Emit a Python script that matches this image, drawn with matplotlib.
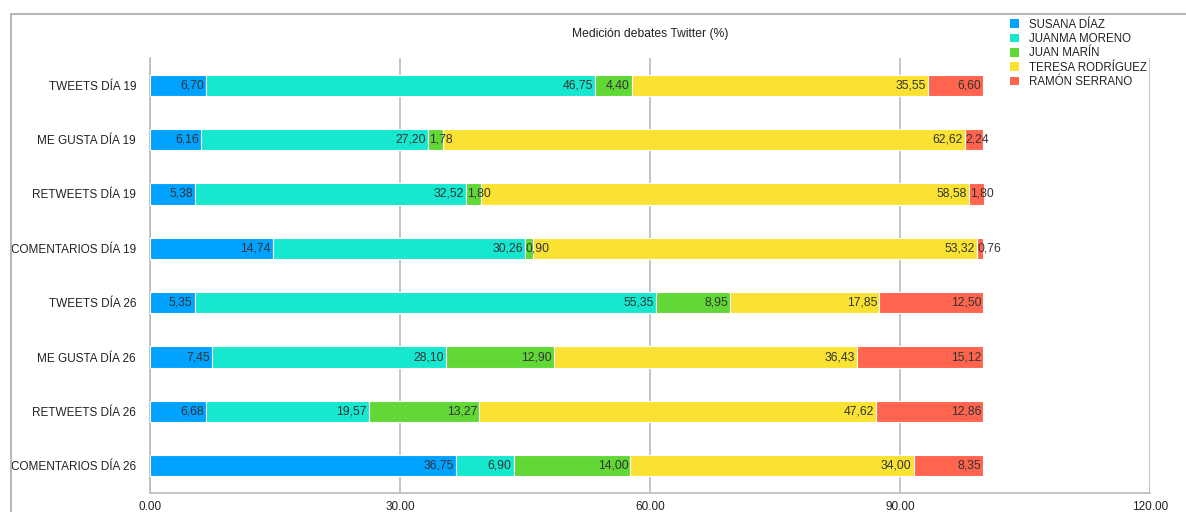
import matplotlib.pyplot as plt
from matplotlib.patches import Patch, Rectangle

# Data
categories = ['TWEETS DÍA 19', 'ME GUSTA DÍA 19', 'RETWEETS DÍA 19', 'COMENTARIOS DÍA 19',
              'TWEETS DÍA 26', 'ME GUSTA DÍA 26', 'RETWEETS DÍA 26', 'COMENTARIOS DÍA 26']
susana_diaz = [6.70, 6.16, 5.38, 14.74, 5.35, 7.45, 6.68, 36.75]
juanma_moreno = [46.75, 27.20, 32.52, 30.26, 55.35, 28.10, 19.57, 6.90]
juan_marin = [4.40, 1.78, 1.80, 0.90, 8.95, 12.90, 13.27, 14.00]
teresa_rodriguez = [35.55, 62.62, 58.58, 53.32, 17.85, 36.43, 47.62, 34.00]
ramon_serrano = [6.60, 2.24, 1.80, 0.76, 12.50, 15.12, 12.86, 8.35]

series_names = ['SUSANA DÍAZ', 'JUANMA MORENO', 'JUAN MARÍN', 'TERESA RODRÍGUEZ', 'RAMÓN SERRANO']
series_values = [susana_diaz, juanma_moreno, juan_marin, teresa_rodriguez, ramon_serrano]
colors = ['#00A2FF', '#16E7CF', '#61D836', '#FAE232', '#FF644E']
x_ticks = [0, 30, 60, 90, 120]

plt.rcParams['font.family'] = ['Liberation Sans', 'DejaVu Sans']

W, H = 1186, 512
fig = plt.figure(figsize=(W / 100, H / 100), dpi=100)
ax = fig.add_axes([150 / W, 19 / H, 1000 / W, 435 / H])

# Outer frame of the chart
fig.patches.append(Rectangle((11 / W, -0.1), 1.2, 1 - 14 / H + 0.1,
                             transform=fig.transFigure, fill=False,
                             edgecolor='#AAAAAA', linewidth=1.2))

y_pos = list(range(len(categories)))
left = [0.0] * len(categories)
for name, vals, col in zip(series_names, series_values, colors):
    ax.barh(y_pos, vals, left=left, height=0.39, color=col,
            edgecolor='white', linewidth=0.8, label=name, zorder=3)
    for y, v, l in zip(y_pos, vals, left):
        label = f'{v:.2f}'.replace('.', ',')
        if v < 3:
            ax.text(l + 0.1, y, label, ha='left', va='center',
                    fontsize=8.8, color='#333333', zorder=4)
        else:
            ax.text(l + v - 0.25, y, label, ha='right', va='center',
                    fontsize=8.8, color='#333333', zorder=4)
    left = [a + b for a, b in zip(left, vals)]

ax.set_xlim(0, 120)
ax.set_ylim(len(categories) - 0.5, -0.5)
ax.set_xticks(x_ticks)
ax.set_xticklabels([f'{t:.2f}' for t in x_ticks])
ax.set_yticks(y_pos)
ax.set_yticklabels(categories)
ax.tick_params(axis='x', length=0, labelsize=8.5, labelcolor='#222222', pad=6)
ax.tick_params(axis='y', length=0, labelsize=8.5, labelcolor='#222222', pad=10)

# Vertical grid lines
ax.xaxis.grid(True, color='#BBBBBB', linewidth=1.2, zorder=0)
ax.yaxis.grid(False)
for s in ['top', 'right']:
    ax.spines[s].set_visible(False)
for s in ['left', 'bottom']:
    ax.spines[s].set_color('#BBBBBB')
    ax.spines[s].set_linewidth(1.2)

ax.set_title('Medición debates Twitter (%)', fontsize=8.7, color='#222222', pad=15)

handles = [Patch(facecolor=c, edgecolor='none') for c in colors]
fig.legend(handles, series_names, loc='upper left',
           bbox_to_anchor=(1004 / W, 1 - 13 / H), frameon=False,
           fontsize=8.3, handlelength=0.8, handleheight=0.8, handletextpad=0.85,
           labelspacing=0.2, borderpad=0, labelcolor='#222222')

fig.savefig('out.png', dpi=100)
plt.close()
